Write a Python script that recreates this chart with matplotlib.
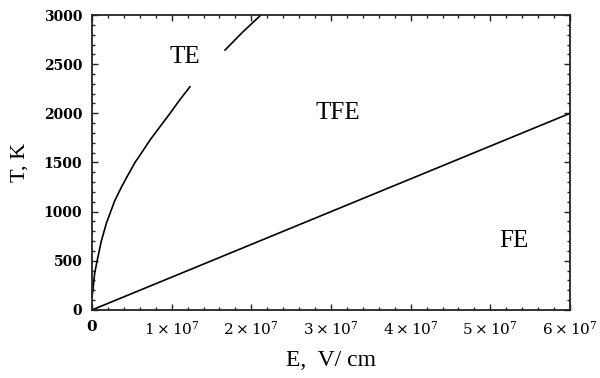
import numpy as np
import matplotlib
matplotlib.use('Agg')
import matplotlib.pyplot as plt
from matplotlib.ticker import MultipleLocator

plt.rcParams['mathtext.fontset'] = 'dejavuserif'

# TE boundary (E in 1e6 V/cm, T in K), drawn in two pieces
te_low_E = [0.0, 0.13, 0.33, 0.67, 1.17, 1.8, 2.85, 3.7, 4.5, 5.4, 6.4, 7.3, 8.5, 9.8, 11.0, 12.3]
te_low_T = [130, 210, 370, 510, 700, 880, 1110, 1250, 1370, 1500, 1620, 1730, 1860, 2000, 2135, 2270]
te_high_E = [16.7, 18.9, 21.2]
te_high_T = [2644, 2825, 3000]

# TFE / FE boundary
fe_E = [0.0, 60.0]
fe_T = [0, 2000]

region_names = ['TE', 'TFE', 'FE']
region_E = [11.7, 30.8, 53.0]
region_T = [2573, 2003, 702]

xtick_vals = [0, 1e7, 2e7, 3e7, 4e7, 5e7, 6e7]
xtick_labels = ['0', r'$1\times10^{7}$', r'$2\times10^{7}$', r'$3\times10^{7}$',
                r'$4\times10^{7}$', r'$5\times10^{7}$', r'$6\times10^{7}$']

fig = plt.figure(figsize=(6.0, 3.78), dpi=100)
ax = fig.add_axes([0.1533, 0.18, 0.7967, 0.7803])

ax.plot(np.array(te_low_E)*1e6, te_low_T, color='black', lw=1.2)
ax.plot(np.array(te_high_E)*1e6, te_high_T, color='black', lw=1.2)
ax.plot(np.array(fe_E)*1e6, fe_T, color='black', lw=1.2)

for name, e, t in zip(region_names, region_E, region_T):
    ax.text(e*1e6, t, name, fontsize=18, family='Liberation Serif',
            ha='center', va='center')

ax.set_xlim(0, 6e7)
ax.set_ylim(0, 3000)
ax.set_xticks(xtick_vals)
ax.set_xticklabels(xtick_labels)
ax.xaxis.set_minor_locator(MultipleLocator(2e6))
ax.yaxis.set_major_locator(MultipleLocator(500))
ax.yaxis.set_minor_locator(MultipleLocator(100))

ax.tick_params(which='both', direction='in', top=True, right=True,
               color='#222222', width=1.0)
ax.tick_params(which='major', length=4.5)
ax.tick_params(which='minor', length=2.5)
ax.tick_params(axis='x', pad=7, labelsize=11)
ax.tick_params(axis='y', pad=7, labelsize=10)
for lab in ax.get_yticklabels():
    lab.set_family('DejaVu Serif')
    lab.set_fontweight('bold')
ax.get_xticklabels()[0].set_fontweight('bold')
ax.get_xticklabels()[0].set_family('DejaVu Serif')

for sp in ax.spines.values():
    sp.set_linewidth(1.3)
    sp.set_color('#222222')

ax.set_xlabel('E,  V/ cm', fontsize=17, family='Liberation Serif', labelpad=9)
ax.set_ylabel('T, K', fontsize=16, family='Liberation Serif', labelpad=10)

fig.savefig('out.png', dpi=100)
